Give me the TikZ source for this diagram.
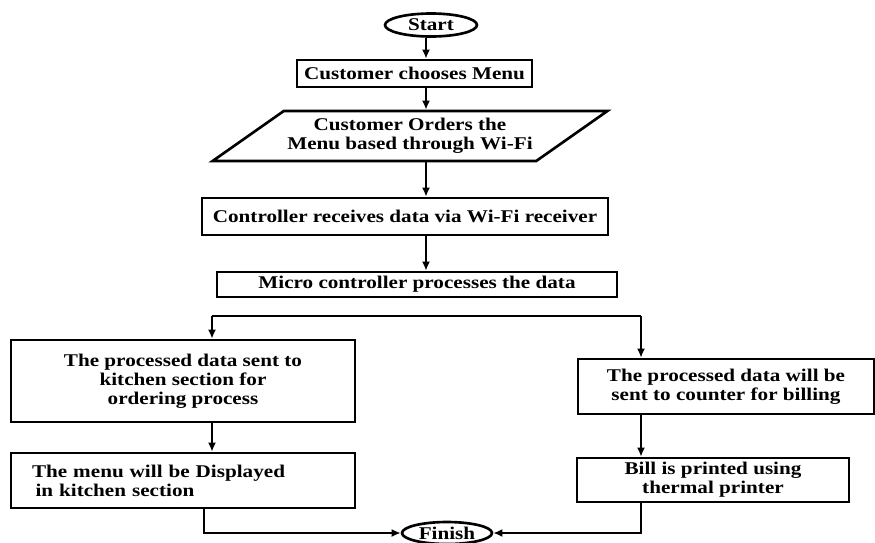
\documentclass[tikz,border=0pt]{standalone}
\usepackage{fontspec}
\setmainfont{Liberation Serif}[FakeStretch=1.18]
\usepackage{tikz}
\usetikzlibrary{shapes.geometric,arrows.meta,positioning,calc}

\begin{document}
\begin{tikzpicture}[
    x=0.02cm, y=-0.02cm,
    proc/.style={draw, rectangle, line width=1.5pt, inner sep=1pt,
                 font=\bfseries\fontsize{10.2}{10.8}\selectfont, align=center},
    term/.style={draw, ellipse, line width=1.5pt, inner sep=0pt,
                 font=\bfseries\fontsize{10.2}{10.8}\selectfont},
    inout/.style={draw, trapezium, trapezium left angle=29, trapezium right angle=151,
                  trapezium stretches=true, line width=1.5pt, inner sep=1pt,
                  font=\bfseries\fontsize{10.2}{10.8}\selectfont, align=center},
    arr/.style={-{Latex[length=1.8mm,width=1.6mm]}, line width=1.1pt}
]
\useasboundingbox (0,0) rectangle (875,542);

% --- main column ---
\node[term, minimum width=1.84cm, minimum height=0.46cm] (start) at (431,25) {Start};
\node[proc, minimum width=4.70cm, minimum height=0.54cm] (choose) at (414.5,73.5) {Customer chooses Menu};
\node[inout, minimum width=7.92cm, minimum height=1.0cm] (order) at (410,136)
    {Customer Orders the\\Menu based through Wi-Fi};
\node[proc, minimum width=8.12cm, minimum height=0.74cm] (ctrl) at (405,216.5)
    {Controller receives data via Wi-Fi receiver};
\node[proc, minimum width=8.0cm, minimum height=0.5cm] (micro) at (417,284.5)
    {Micro controller processes the data};

% --- kitchen branch ---
\node[proc, minimum width=6.88cm, minimum height=1.64cm] (kitsend) at (183,381)
    {The processed data sent to\\kitchen section for\\ordering process};
\node[proc, text width=6.04cm, inner xsep=0.42cm, minimum height=1.10cm, align=left] (kitshow) at (183,480.5)
    {The menu will be Displayed\\\hspace{2pt}in kitchen section};

% --- billing branch ---
\node[proc, minimum width=5.92cm, minimum height=1.10cm] (billsend) at (726,386.5)
    {The processed data will be\\sent to counter for billing};
\node[proc, minimum width=5.44cm, minimum height=0.88cm] (billprint) at (713,480)
    {Bill is printed using\\thermal printer};

\node[term, minimum width=1.80cm, minimum height=0.44cm] (finish) at (447,533) {Finish};

% --- helper coordinates ---
\coordinate (spine) at (426,0);
\coordinate (brL) at (212,316);
\coordinate (brR) at (641,316);
\coordinate (lft) at (204,533);

% --- connectors ---
\draw[arr] (start.south -| spine) -- (choose.north -| spine);
\draw[arr] (choose.south -| spine) -- (order.north -| spine);
\draw[arr] (order.south -| spine) -- (ctrl.north -| spine);
\draw[arr] (ctrl.south -| spine) -- (micro.north -| spine);

\draw[line width=1.1pt] (brL) -- (brR);
\draw[arr] (brL) -- (brL |- kitsend.north);
\draw[arr] (brR) -- (brR |- billsend.north);

\draw[arr] (kitsend.south -| brL) -- (kitshow.north -| brL);
\draw[arr] (billsend.south -| brR) -- (billprint.north -| brR);

\draw[arr] (kitshow.south -| lft) -- (lft) -- (finish.west);
\draw[arr] (billprint.south -| brR) |- (finish.east);

\end{tikzpicture}
\end{document}
